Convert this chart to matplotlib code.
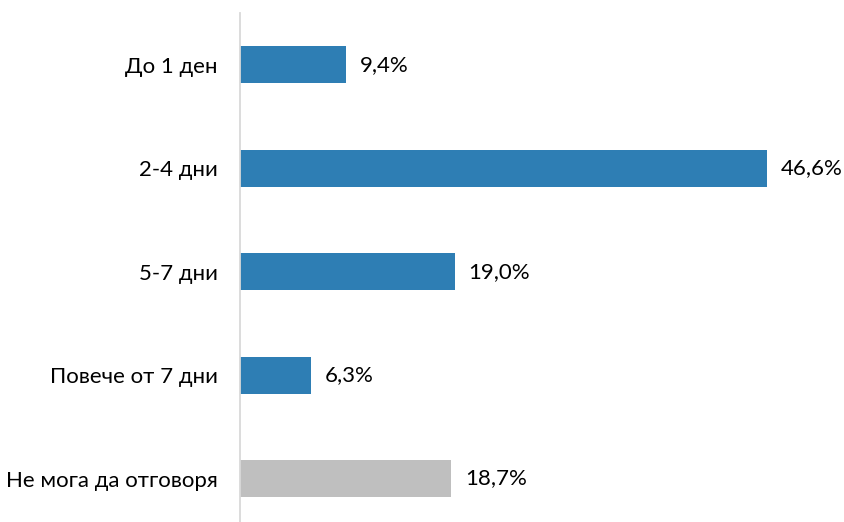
import matplotlib
matplotlib.use("Agg")
import matplotlib.pyplot as plt

categories = ["До 1 ден", "2-4 дни", "5-7 дни", "Повече от 7 дни", "Не мога да отговоря"]
values = [9.4, 46.6, 19.0, 6.3, 18.7]
labels = ["9,4%", "46,6%", "19,0%", "6,3%", "18,7%"]
colors = ["#2E7EB4", "#2E7EB4", "#2E7EB4", "#2E7EB4", "#BFBFBF"]

plt.rcParams['font.family'] = ['Lato', 'DejaVu Sans']

fig = plt.figure(figsize=(8.45, 5.22), dpi=100)
ax = fig.add_axes([240/845, 0.0, (805-240)/845, (522-13)/522])

y = list(range(len(categories)))
ax.barh(y, values, height=0.357, color=colors)
for yi, v, lab in zip(y, values, labels):
    ax.annotate(lab, (v, yi), xytext=(10, 0), textcoords="offset points",
                va="center", ha="left", fontsize=16, color="#000000")

ax.set_xlim(0, 50)
ax.set_ylim(4 + (522-478.5)/103.5, -0.5)
ax.set_yticks(y)
ax.set_yticklabels(categories, fontsize=16)
ax.tick_params(axis='y', length=0, pad=16)
ax.set_xticks([])
for s in ["top", "right", "bottom"]:
    ax.spines[s].set_visible(False)
ax.spines["left"].set_color("#D9D9D9")
ax.spines["left"].set_linewidth(1.3)

fig.savefig("out.png", dpi=100)
